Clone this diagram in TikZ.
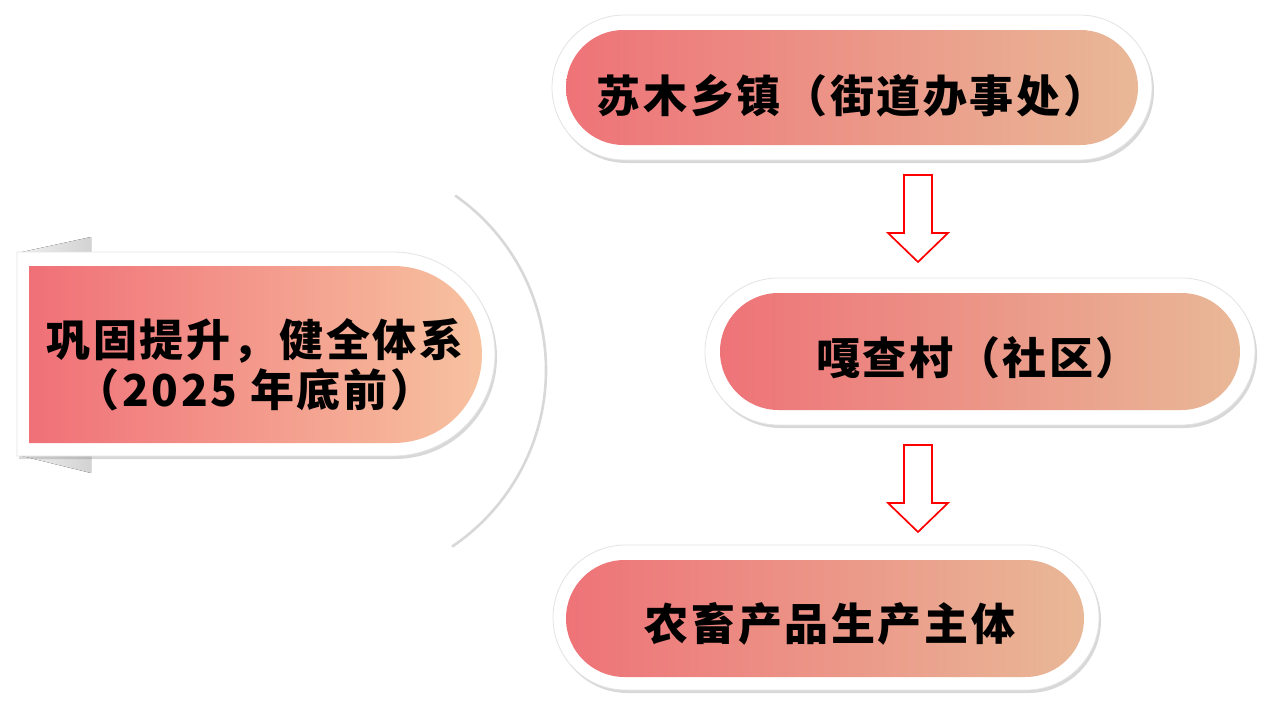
\documentclass[tikz,border=0pt]{standalone}
\usepackage{fontspec}
\newfontfamily\cjk{Noto Sans CJK SC}[LetterSpace=6]
\usetikzlibrary{shapes.misc,shadows}
\definecolor{lpl}{HTML}{F07078}
\definecolor{lpr}{HTML}{F7C2A0}
\definecolor{rbl}{HTML}{EE7378}
\definecolor{rbr}{HTML}{E9B897}
\definecolor{arcgray}{HTML}{D8D8D8}
\tikzset{
  outerpill/.style={rounded rectangle, draw=gray!22, line width=0.8pt, fill=white,
    drop shadow={opacity=0.3, shadow xshift=2pt, shadow yshift=-3pt}, inner sep=0pt},
  innerpill/.style={rounded rectangle, left color=rbl, right color=rbr, inner sep=0pt},
  lbl/.style={font=\cjk\bfseries\fontsize{44pt}{50pt}\selectfont, text=black, inner sep=0pt, align=center},
  blockarrow/.style={draw=red, fill=white, line width=1.7pt, line join=miter},
  fold/.style={left color=gray!12, right color=gray!35}
}
\begin{document}
\begin{tikzpicture}[x=1pt,y=-1pt]
\useasboundingbox[fill=white] (0,0) rectangle (1270,704);
% gray arc
\coordinate (arcs) at (333,370);
\draw[arcgray, line width=2.6pt] (arcs) ++(-55:213) arc[start angle=-55, end angle=56, radius=213];
% left fold triangles
\fill[fold] (22,252) -- (91,237) -- (91,262) -- (22,262) -- cycle;
\fill[fold] (22,456) -- (91,473) -- (91,446) -- (22,446) -- cycle;
% left shape
\node[outerpill, rounded rectangle west arc=none, minimum width=478pt, minimum height=204pt] (lo) at (256,354) {};
\node[innerpill, left color=lpl, right color=lpr, rounded rectangle west arc=none, minimum width=453pt, minimum height=177pt] (li) at (255.5,354.5) {};
\node[lbl] (lt) at (255,365) {巩固提升，健全体系\\（2025 年底前）};
% top box
\node[outerpill, minimum width=600pt, minimum height=145pt] (to) at (852,87.5) {};
\node[innerpill, minimum width=572pt, minimum height=115pt] (ti) at (852,87.5) {};
\node[lbl] (tt) at (852,96) {苏木乡镇（街道办事处）};
% middle box
\node[outerpill, minimum width=550pt, minimum height=147pt] (mo) at (980,351.5) {};
\node[innerpill, minimum width=520pt, minimum height=117pt] (mi) at (980,351.5) {};
\node[lbl] (mt) at (978,358) {嘎查村（社区）};
% bottom box
\node[outerpill, minimum width=546pt, minimum height=145pt] (bo) at (826,617.5) {};
\node[innerpill, minimum width=518pt, minimum height=117pt] (bi) at (825,618.5) {};
\node[lbl] (bt) at (830,624) {农畜产品生产主体};
% arrows
\coordinate (a1) at (918,175);
\coordinate (a2) at (918,445);
\foreach \a in {a1,a2}{
  \draw[blockarrow] (\a) ++(-14,0) -- ++(28,0) -- ++(0,58) -- ++(16,0) -- ++(-30,29) -- ++(-30,-29) -- ++(16,0) -- cycle;
}
\end{tikzpicture}
\end{document}
